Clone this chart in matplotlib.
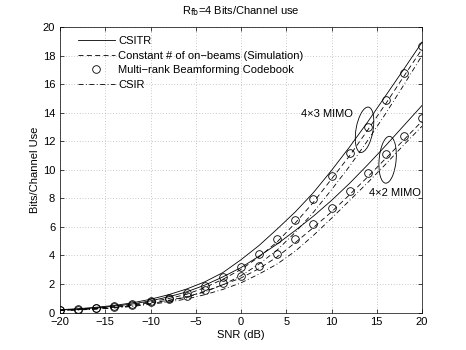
import matplotlib
matplotlib.use("Agg")
import matplotlib.pyplot as plt
from matplotlib.patches import Ellipse
from matplotlib.transforms import ScaledTranslation

plt.rcParams['font.family'] = ['Liberation Sans', 'DejaVu Sans']
plt.rcParams['font.size'] = 8

snr = [-20, -18, -16, -14, -12, -10, -8, -6, -4, -2, 0, 2, 4, 6, 8, 10, 12, 14, 16, 18, 20]

# 4x3 MIMO
csitr_43 = [0.2, 0.27, 0.37, 0.5, 0.68, 0.93, 1.25, 1.65, 2.15, 2.8, 3.7, 4.7, 5.85, 7.05, 8.4, 9.95, 11.6, 13.35, 15.2, 17.05, 18.93]
sim_43 = [0.17, 0.22, 0.3, 0.41, 0.55, 0.75, 0.98, 1.28, 1.75, 2.33, 3.02, 3.9, 4.95, 6.27, 7.72, 9.35, 10.98, 12.78, 14.63, 16.55, 18.45]
cb_43 = [0.18, 0.23, 0.32, 0.43, 0.58, 0.79, 1.02, 1.35, 1.86, 2.47, 3.2, 4.1, 5.16, 6.49, 7.94, 9.58, 11.2, 13.0, 14.86, 16.8, 18.7]
csir_43 = [0.15, 0.19, 0.26, 0.35, 0.47, 0.63, 0.83, 1.08, 1.45, 1.95, 2.58, 3.4, 4.38, 5.62, 7.02, 8.6, 10.25, 12.05, 13.95, 15.95, 18.0]

# 4x2 MIMO
csitr_42 = [0.18, 0.24, 0.33, 0.45, 0.6, 0.82, 1.1, 1.45, 1.92, 2.5, 3.15, 3.95, 4.8, 5.75, 6.75, 7.85, 9.05, 10.35, 11.7, 13.1, 14.5]
sim_42 = [0.15, 0.2, 0.27, 0.37, 0.5, 0.68, 0.86, 1.1, 1.48, 1.95, 2.42, 3.08, 3.9, 4.9, 5.95, 7.05, 8.25, 9.5, 10.8, 12.1, 13.4]
cb_42 = [0.16, 0.21, 0.29, 0.39, 0.52, 0.72, 0.92, 1.16, 1.58, 2.09, 2.56, 3.26, 4.1, 5.14, 6.21, 7.31, 8.53, 9.77, 11.07, 12.39, 13.65]
csir_42 = [0.14, 0.18, 0.24, 0.32, 0.43, 0.58, 0.74, 0.95, 1.25, 1.62, 2.08, 2.7, 3.4, 4.3, 5.4, 6.6, 7.85, 9.1, 10.4, 11.75, 13.05]

labels = ['CSITR', 'Constant # of on\u2212beams (Simulation)',
          'Multi\u2212rank Beamforming Codebook', 'CSIR']

fig = plt.figure(figsize=(4.66, 3.5), dpi=100)
ax = fig.add_axes([0.1288, 0.107, 0.7768, 0.816])

lw = 0.6
for csitr, sim, cb, csir in [(csitr_43, sim_43, cb_43, csir_43),
                             (csitr_42, sim_42, cb_42, csir_42)]:
    ax.plot(snr, csitr, '-', color='k', lw=lw)
    ax.plot(snr, sim, '--', color='k', lw=lw, dashes=(6, 4))
    ax.plot(snr, cb, 'o', color='k', mfc='none', ms=5.5, mew=0.6)
    ax.plot(snr, csir, '-.', color='k', lw=lw, dashes=(6, 3, 1, 3))

# legend proxies
h1, = ax.plot([], [], '-', color='k', lw=lw)
h2, = ax.plot([], [], '--', color='k', lw=lw, dashes=(6, 4))
h3, = ax.plot([], [], 'o', color='k', mfc='none', ms=5.5, mew=0.6)
h4, = ax.plot([], [], '-.', color='k', lw=lw, dashes=(6, 3, 1, 3))
leg = ax.legend([h1, h2, h3, h4], labels, loc='upper left', frameon=False,
                handlelength=3.3, handletextpad=0.3, labelspacing=0.42,
                borderaxespad=0.4, bbox_to_anchor=(0.025, 1.0))

# annotation ellipses (size in inches, centre in data)
for cx, cy, w, h, ang in [(13.65, 12.8, 0.17, 0.46, -10), (16.2, 10.7, 0.17, 0.47, -5)]:
    tr = fig.dpi_scale_trans + ScaledTranslation(cx, cy, ax.transData)
    ax.add_patch(Ellipse((0, 0), w, h, angle=ang, transform=tr,
                         fill=False, ec='k', lw=0.6))

ax.text(12.4, 13.9, '4\u00d73 MIMO', ha='right', va='center')
ax.text(14.1, 8.4, '4\u00d72 MIMO', ha='left', va='center')

ax.set_xlim(-20, 20)
ax.set_ylim(0, 20)
ax.set_xticks(range(-20, 21, 5))
ax.set_yticks(range(0, 21, 2))
ax.tick_params(direction='in', top=True, right=True, length=3, width=0.5, labelsize=8)
for s in ax.spines.values():
    s.set_linewidth(0.5)
ax.grid(True, linestyle=(0, (1, 3)), color='0.6', lw=0.5)

ax.set_xlabel('SNR (dB)', labelpad=2)
ax.set_ylabel('Bits/Channel Use', labelpad=2)
ax.set_title('R$_{\\mathrm{fb}}$=4 Bits/Channel use', fontsize=8, pad=9)

fig.savefig('out.png', dpi=100)
